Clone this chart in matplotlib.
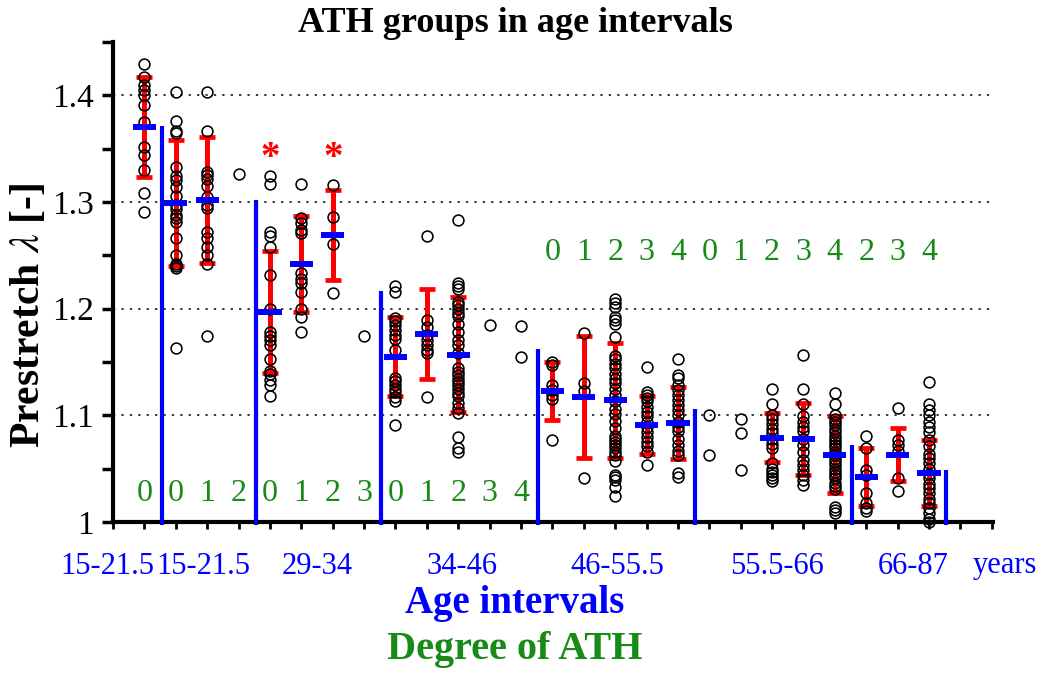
import matplotlib
matplotlib.use("Agg")
import matplotlib.pyplot as plt
import matplotlib.transforms as mtransforms
import numpy as np

plt.rcParams['font.family'] = ['Liberation Serif', 'DejaVu Serif']
plt.rcParams['mathtext.fontset'] = 'stix'

# ---------------- data ----------------
positions = list(range(1, 27))
degree_labels = ['0', '0', '1', '2', '0', '1', '2', '3', '0', '1', '2', '3', '4',
                 '0', '1', '2', '3', '4', '0', '1', '2', '3', '4', '2', '3', '4']

p01 = [1.429, 1.417, 1.410, 1.405, 1.400, 1.391, 1.375, 1.352, 1.344, 1.330, 1.308, 1.291]
p02 = [1.403, 1.376, 1.367, 1.365, 1.333, 1.324, 1.321, 1.314, 1.306, 1.297, 1.293, 1.288,
       1.285, 1.281, 1.266, 1.250, 1.242, 1.240, 1.238, 1.163]
p03 = [1.403, 1.367, 1.328, 1.325, 1.322, 1.315, 1.305, 1.297, 1.294, 1.272, 1.266, 1.258,
       1.250, 1.242, 1.174]
p04 = [1.326]
p05 = [1.324, 1.317, 1.272, 1.268, 1.258, 1.232, 1.200, 1.178, 1.174, 1.171, 1.166, 1.153,
       1.142, 1.139, 1.133, 1.128, 1.118]
p06 = [1.317, 1.285, 1.280, 1.274, 1.271, 1.233, 1.228, 1.224, 1.216, 1.200, 1.192, 1.178]
p07 = [1.316, 1.286, 1.261, 1.215]
p08 = [1.174]
p09 = [1.221, 1.216, 1.191, 1.188, 1.185, 1.180, 1.175, 1.172, 1.161, 1.135, 1.132, 1.128,
       1.125, 1.122, 1.117, 1.113, 1.091]
p10 = [1.268, 1.189, 1.183, 1.175, 1.171, 1.166, 1.161, 1.158, 1.117]
p11 = [1.283, 1.224, 1.221, 1.218, 1.206, 1.203, 1.200, 1.196, 1.193, 1.186, 1.178, 1.171,
       1.166, 1.158, 1.144, 1.141, 1.138, 1.134, 1.131, 1.128, 1.125, 1.121, 1.118, 1.112,
       1.107, 1.102, 1.080, 1.069, 1.066]
p12 = [1.185]
p13 = [1.184, 1.155]
p14 = [1.150, 1.147, 1.128, 1.124, 1.119, 1.115, 1.077]
p15 = [1.177, 1.130, 1.123, 1.041]
p16 = [1.209, 1.205, 1.202, 1.192, 1.189, 1.186, 1.173, 1.156, 1.153, 1.148, 1.144, 1.139,
       1.134, 1.130, 1.125, 1.119, 1.113, 1.106, 1.101, 1.095, 1.088, 1.081, 1.078, 1.075,
       1.072, 1.069, 1.066, 1.063, 1.057, 1.044, 1.042, 1.039, 1.033, 1.024]
p17 = [1.145, 1.122, 1.119, 1.116, 1.113, 1.108, 1.103, 1.099, 1.094, 1.089, 1.084, 1.080,
       1.075, 1.071, 1.066, 1.053]
p18 = [1.153, 1.138, 1.135, 1.128, 1.124, 1.119, 1.114, 1.110, 1.105, 1.100, 1.094, 1.089,
       1.085, 1.078, 1.072, 1.067, 1.063, 1.046, 1.042]
p19 = [1.100, 1.063]
p20 = [1.097, 1.083, 1.049]
p21 = [1.125, 1.111, 1.100, 1.097, 1.092, 1.087, 1.083, 1.078, 1.073, 1.069, 1.055, 1.050,
       1.047, 1.044, 1.041, 1.038]
p22 = [1.157, 1.125, 1.111, 1.099, 1.094, 1.089, 1.085, 1.078, 1.072, 1.066, 1.058, 1.053,
       1.049, 1.044, 1.039, 1.035]
p23 = [1.121, 1.111, 1.100, 1.097, 1.094, 1.091, 1.087, 1.084, 1.081, 1.078, 1.075, 1.072,
       1.069, 1.066, 1.063, 1.059, 1.056, 1.053, 1.050, 1.047, 1.044, 1.041, 1.037, 1.034,
       1.031, 1.014, 1.011, 1.008]
p24 = [1.081, 1.069, 1.049, 1.044, 1.027, 1.018, 1.013, 1.010]
p25 = [1.107, 1.077, 1.072, 1.067, 1.041, 1.029]
p26 = [1.131, 1.111, 1.105, 1.100, 1.094, 1.089, 1.084, 1.077, 1.071, 1.064, 1.060, 1.055,
       1.050, 1.045, 1.041, 1.036, 1.032, 1.027, 1.022, 1.018, 1.013, 1.008, 1.003, 1.000]
points = [p01, p02, p03, p04, p05, p06, p07, p08, p09, p10, p11, p12, p13,
          p14, p15, p16, p17, p18, p19, p20, p21, p22, p23, p24, p25, p26]

# groups with mean +/- SD
stat_pos = [1, 2, 3, 5, 6, 7, 9, 10, 11, 14, 15, 16, 17, 18, 21, 22, 23, 24, 25, 26]
stat_mean = [1.370, 1.299, 1.302, 1.197, 1.242, 1.269, 1.155, 1.176, 1.157, 1.123,
             1.117, 1.114, 1.091, 1.093, 1.079, 1.078, 1.063, 1.042, 1.063, 1.046]
stat_sd = [0.047, 0.059, 0.059, 0.057, 0.045, 0.042, 0.037, 0.042, 0.054, 0.027,
           0.057, 0.054, 0.027, 0.034, 0.023, 0.034, 0.036, 0.027, 0.025, 0.031]

star_pos = [5, 7]
star_val = [1.349, 1.349]

divider_pos = [1.55, 4.55, 8.55, 13.55, 18.55, 23.55, 26.55]
divider_top = [1.371, 1.302, 1.217, 1.162, 1.106, 1.072, 1.049]

age_labels = ['15-21.5', '15-21.5', '29-34', '34-46', '46-55.5', '55.5-66', '66-87', 'years']
age_label_pos = [-0.19, 2.87, 6.50, 11.12, 16.06, 21.16, 25.49, 28.43]

BLUE = '#0000ff'
RED = '#ff0000'
GREEN = '#178a17'

# ---------------- figure ----------------
W, H = 1040, 673
fig = plt.figure(figsize=(W / 100, H / 100), dpi=100)
ax = fig.add_axes([113 / W, 1 - 522 / H, 880 / W, 480 / H])
ax.set_xlim(0, 28.04)
ax.set_ylim(1.0, 1.45)

# grid
for g in [1.1, 1.2, 1.3, 1.4]:
    ax.plot([0, 28.0], [g, g], color='black', lw=1.1, ls=(0, (1.5, 4)), zorder=1)

# error bars
for x, m, s in zip(stat_pos, stat_mean, stat_sd):
    ax.errorbar([x], [m], yerr=[s], fmt='none', ecolor=RED, elinewidth=3.6,
                capsize=5.5, capthick=3.4, zorder=2)

# points
for x, vals in zip(positions, points):
    ax.plot([x] * len(vals), vals, 'o', ms=7.8, mfc='none', mec='black', mew=1.15,
            zorder=3, clip_on=False)

# mean bars
for x, m in zip(stat_pos, stat_mean):
    ax.plot([x - 0.37, x + 0.37], [m, m], color=BLUE, lw=4.3, solid_capstyle='butt', zorder=4)

# dividers
ax.vlines(divider_pos, 0.997, divider_top, color=BLUE, lw=3, zorder=6, clip_on=False)

# stars
for x, v in zip(star_pos, star_val):
    ax.text(x, v - 0.008, '*', color=RED, fontsize=28, fontweight='bold',
            ha='center', va='center')

# degree labels
for x, lab in zip(positions, degree_labels):
    yv = 1.027 if x <= 13 else 1.253
    ax.text(x, yv, lab, color=GREEN, fontsize=23, ha='center', va='center')

# age labels
trans = mtransforms.blended_transform_factory(ax.transData, ax.transAxes)
for x, lab in zip(age_label_pos, age_labels):
    ax.text(x, -44 / 480, lab, color=BLUE, fontsize=22, ha='center', va='center',
            transform=trans, clip_on=False)

# spines / ticks
for s in ['top', 'right']:
    ax.spines[s].set_visible(False)
ax.spines['left'].set_linewidth(3)
ax.spines['bottom'].set_linewidth(3)
ax.set_yticks([1.0, 1.1, 1.2, 1.3, 1.4])
ax.set_yticklabels(['1', '1.1', '1.2', '1.3', '1.4'])
ax.set_yticks([1.05, 1.15, 1.25, 1.35, 1.45], minor=True)
ax.tick_params(axis='y', which='both', direction='out', length=8, width=2.5,
               labelsize=24, pad=6)
ax.set_xticks(range(0, 29))
ax.set_xticklabels([])
ax.tick_params(axis='x', which='major', direction='out', length=5, width=2)

# texts
fig.text(515 / W, 1 - 24 / H, 'ATH groups in age intervals', ha='center', va='center',
         fontsize=26, fontweight='bold')
fig.text(29 / W, 1 - 315 / H, r'Prestretch $\lambda$ [-]', ha='center', va='center',
         rotation=90, fontsize=30, fontweight='bold')
fig.text(515 / W, 1 - 604 / H, 'Age intervals', ha='center', va='center',
         fontsize=28, fontweight='bold', color=BLUE)
fig.text(515 / W, 1 - 650 / H, 'Degree of ATH', ha='center', va='center',
         fontsize=29, fontweight='bold', color=GREEN)

fig.savefig('out.png', dpi=100)
